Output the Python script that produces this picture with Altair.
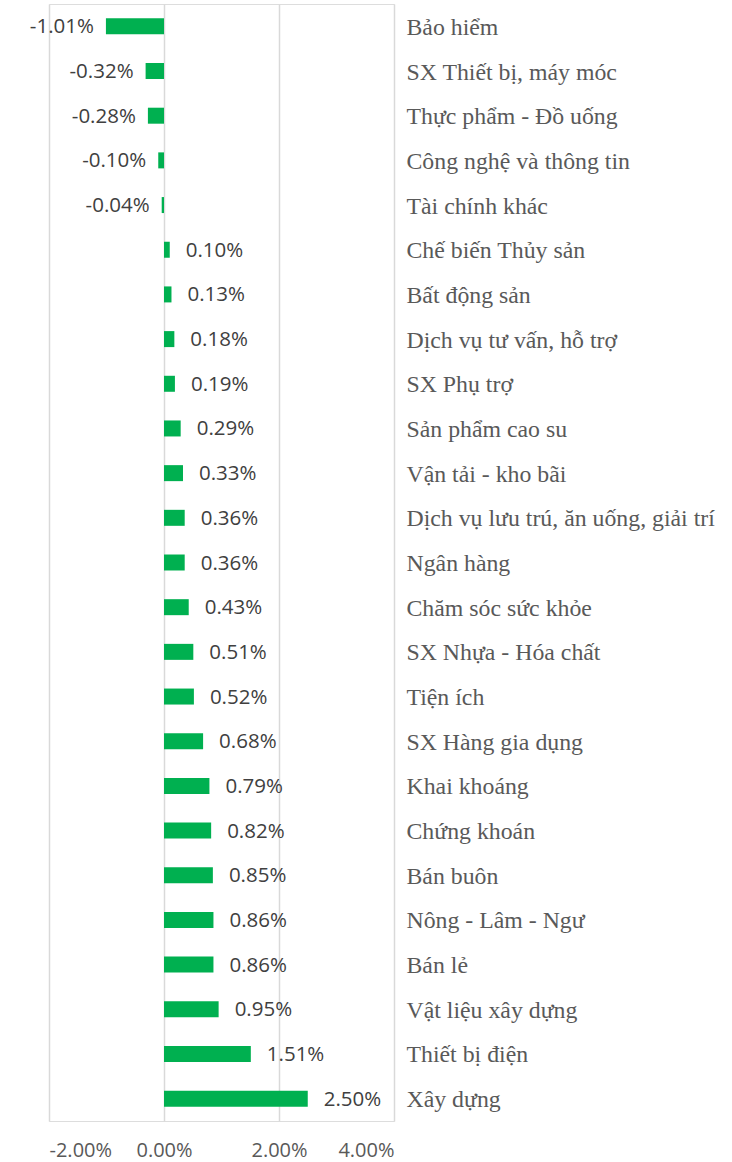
import altair as alt
import pandas as pd

categories = [
    "Bảo hiểm", "SX Thiết bị, máy móc", "Thực phẩm - Đồ uống", "Công nghệ và thông tin",
    "Tài chính khác", "Chế biến Thủy sản", "Bất động sản", "Dịch vụ tư vấn, hỗ trợ",
    "SX Phụ trợ", "Sản phẩm cao su", "Vận tải - kho bãi", "Dịch vụ lưu trú, ăn uống, giải trí",
    "Ngân hàng", "Chăm sóc sức khỏe", "SX Nhựa - Hóa chất", "Tiện ích", "SX Hàng gia dụng",
    "Khai khoáng", "Chứng khoán", "Bán buôn", "Nông - Lâm - Ngư", "Bán lẻ",
    "Vật liệu xây dựng", "Thiết bị điện", "Xây dựng",
]
values = [
    -1.01, -0.32, -0.28, -0.10, -0.04, 0.10, 0.13, 0.18, 0.19, 0.29, 0.33, 0.36,
    0.36, 0.43, 0.51, 0.52, 0.68, 0.79, 0.82, 0.85, 0.86, 0.86, 0.95, 1.51, 2.50,
]
x_ticks = [-2, 0, 2, 4]

df = pd.DataFrame({"cat": categories, "val": values})
df["label"] = [f"{v:.2f}%" for v in values]

y_enc = alt.Y(
    "cat:N", sort=categories, title=None,
    scale=alt.Scale(paddingInner=0.642, paddingOuter=0.321),
    axis=alt.Axis(orient="right", domain=False, ticks=False, labelPadding=12,
                  labelFont="Liberation Serif", labelFontSize=23.8, labelColor="#595959",
                  labelAlign="left", labelLimit=400, labelBaseline="middle", labelOffset=1.5),
)
x_enc = alt.X(
    "val:Q", title=None,
    scale=alt.Scale(domain=[-2, 4], nice=False, zero=False),
    axis=alt.Axis(values=x_ticks, domain=False, ticks=False, grid=True,
                  gridColor="#D9D9D9", gridWidth=1.5,
                  labelExpr="replace(format(datum.value, '.2f'), '\u2212', '-') + '%'",
                  labelFont="Open Sans", labelFontSize=20, labelColor="#595959",
                  labelPadding=19),
)

base = alt.Chart(df)
bars = base.mark_bar(color="#00B050").encode(y=y_enc, x=x_enc, x2=alt.datum(0))
pos_text = base.transform_filter("datum.val >= 0").mark_text(
    align="left", baseline="middle", dx=16, dy=1, font="Open Sans", fontSize=20.5, color="#404040"
).encode(y=alt.Y("cat:N", sort=categories), x="val:Q", text="label:N")
neg_text = base.transform_filter("datum.val < 0").mark_text(
    align="right", baseline="middle", dx=-12, dy=1, font="Open Sans", fontSize=20.5, color="#404040"
).encode(y=alt.Y("cat:N", sort=categories), x="val:Q", text="label:N")

chart = alt.layer(bars, pos_text, neg_text).properties(
    width=345, height=1117,
    autosize=alt.AutoSizeParams(type="none"),
    padding={"left": 49, "top": 4, "right": 338, "bottom": 41},
).configure_view(stroke=None).configure(background="white")

chart.save("out.html", embed_options={"renderer": "svg", "actions": False})
